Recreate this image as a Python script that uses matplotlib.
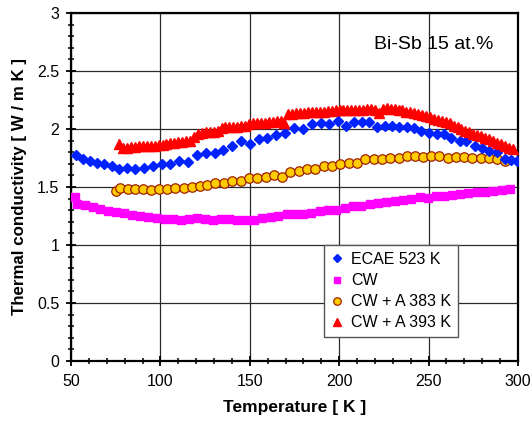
import matplotlib
matplotlib.use("Agg")
import matplotlib.pyplot as plt
from matplotlib.ticker import MultipleLocator, FuncFormatter

plt.rcParams['font.family'] = ['Liberation Sans', 'DejaVu Sans']

# ECAE 523 K
t_ecae = [52.8, 56.9, 60.6, 64.4, 68.4, 72.7, 77.0, 81.1, 85.9, 90.8, 95.8, 100.7,
          105.5, 110.5, 115.4, 120.2, 125.4, 130.3, 135.1, 140.1, 145.1, 150.0, 155.0,
          159.9, 164.7, 169.7, 175.0, 179.8, 184.8, 189.7, 194.5, 199.6, 204.0, 208.2,
          212.7, 216.6, 221.1, 225.4, 229.5, 233.6, 237.7, 241.8, 245.9, 250.2, 254.6,
          258.8, 262.8, 267.3, 271.1, 275.7, 279.6, 283.9, 288.2, 292.5, 296.2, 299.5]
k_ecae = [1.78, 1.74, 1.72, 1.71, 1.70, 1.68, 1.655, 1.665, 1.655, 1.66, 1.68, 1.695,
          1.70, 1.725, 1.715, 1.775, 1.79, 1.79, 1.815, 1.85, 1.895, 1.87, 1.915,
          1.925, 1.95, 1.965, 2.005, 2.00, 2.04, 2.05, 2.04, 2.07, 2.03, 2.06,
          2.06, 2.06, 2.02, 2.03, 2.03, 2.02, 2.015, 2.01, 1.985, 1.965, 1.955,
          1.955, 1.925, 1.90, 1.895, 1.85, 1.84, 1.81, 1.80, 1.74, 1.73, 1.725]

# CW
t_cw = [52.1, 53.2, 57.8, 62.1, 66.4, 70.8, 75.1, 79.8, 84.2, 88.7, 93.2, 97.9, 102.3,
        106.8, 111.3, 115.8, 120.2, 125.0, 129.5, 134.0, 138.4, 143.1, 147.6, 152.2,
        156.7, 161.6, 166.0, 170.7, 175.3, 179.8, 184.5, 189.1, 193.7, 198.4, 203.1,
        207.7, 212.4, 217.0, 221.7, 226.4, 231.0, 235.6, 240.3, 245.0, 249.6, 253.9,
        258.5, 263.2, 267.7, 272.3, 277.0, 281.7, 286.3, 290.8, 295.3]
k_cw = [1.416, 1.353, 1.342, 1.325, 1.308, 1.293, 1.282, 1.273, 1.261, 1.253, 1.241,
        1.233, 1.227, 1.221, 1.213, 1.221, 1.233, 1.224, 1.213, 1.221, 1.221, 1.216,
        1.216, 1.213, 1.236, 1.241, 1.253, 1.264, 1.270, 1.270, 1.279, 1.296, 1.305,
        1.305, 1.322, 1.333, 1.339, 1.353, 1.365, 1.373, 1.379, 1.385, 1.394, 1.411,
        1.408, 1.420, 1.422, 1.431, 1.440, 1.445, 1.460, 1.460, 1.466, 1.471, 1.480]

# CW + A 383 K
t_a383 = [75.0, 77.5, 81.7, 85.8, 90.2, 94.5, 99.2, 103.8, 108.3, 113.0, 117.6, 122.1,
          126.3, 130.8, 135.6, 140.3, 145.0, 149.6, 154.1, 158.8, 163.4, 168.0, 172.7,
          177.4, 182.0, 186.7, 191.3, 196.0, 200.7, 205.3, 209.8, 214.6, 219.3, 223.9,
          228.6, 233.2, 237.7, 242.3, 246.8, 251.5, 256.0, 260.6, 265.3, 269.9, 274.4,
          279.1, 283.7, 288.4, 292.8]
k_a383 = [1.468, 1.489, 1.483, 1.483, 1.483, 1.474, 1.485, 1.485, 1.489, 1.494, 1.500,
          1.509, 1.517, 1.537, 1.532, 1.549, 1.554, 1.575, 1.575, 1.586, 1.603, 1.589,
          1.632, 1.635, 1.652, 1.658, 1.681, 1.678, 1.695, 1.707, 1.711, 1.739, 1.741,
          1.739, 1.747, 1.750, 1.764, 1.764, 1.756, 1.767, 1.764, 1.752, 1.758, 1.758,
          1.752, 1.752, 1.747, 1.739, 1.727]

# CW + A 393 K
t_a393 = [77.0, 79.2, 81.4, 83.6, 85.8, 88.0, 90.2, 92.4, 94.6, 96.8, 99.0, 101.2,
          103.4, 105.6, 107.8, 110.0, 112.2, 114.4, 116.6, 118.8, 121.0, 123.2, 125.4,
          127.6, 129.8, 132.0, 134.2, 136.4, 138.6, 140.8, 143.0, 145.2, 147.4, 149.6,
          151.8, 154.0, 156.2, 158.4, 160.6, 162.8, 165.0, 167.2, 169.4, 171.6, 173.8,
          176.0, 178.2, 180.4, 182.6, 184.8, 187.0, 189.2, 191.4, 193.6, 195.8, 198.0,
          200.2, 202.4, 204.6, 206.8, 209.0, 211.2, 213.4, 215.6, 217.8, 220.0, 222.2,
          224.4, 226.6, 228.8, 231.0, 233.2, 235.4, 237.6, 239.8, 242.0, 244.2, 246.4,
          248.6, 250.8, 253.0, 255.2, 257.4, 259.6, 261.8, 264.0, 266.2, 268.4, 270.6,
          272.8, 275.0, 277.2, 279.4, 281.6, 283.8, 286.0, 288.2, 290.4, 292.6, 294.8,
          297.0]
k_a393 = [1.87, 1.84, 1.84, 1.845, 1.845, 1.85, 1.85, 1.85, 1.855, 1.855, 1.86, 1.865,
          1.87, 1.875, 1.88, 1.885, 1.89, 1.895, 1.90, 1.93, 1.96, 1.965, 1.97,
          1.97, 1.975, 1.98, 2.01, 2.015, 2.015, 2.02, 2.02, 2.025, 2.03, 2.045,
          2.05, 2.05, 2.055, 2.055, 2.06, 2.06, 2.065, 2.07, 2.05, 2.125, 2.13,
          2.135, 2.14, 2.14, 2.145, 2.145, 2.15, 2.15, 2.15, 2.155, 2.155, 2.16,
          2.16, 2.16, 2.16, 2.165, 2.165, 2.16, 2.165, 2.17, 2.17, 2.165, 2.14,
          2.175, 2.18, 2.175, 2.17, 2.165, 2.16, 2.15, 2.145, 2.135, 2.125, 2.12,
          2.11, 2.10, 2.09, 2.08, 2.07, 2.06, 2.05, 2.03, 2.015, 2.0, 1.985,
          1.97, 1.96, 1.95, 1.94, 1.925, 1.91, 1.895, 1.88, 1.87, 1.855, 1.84,
          1.825]

fig = plt.figure(figsize=(5.31, 4.23), dpi=100)
ax = fig.add_axes([0.1337, 0.1466, 0.8418, 0.8227])

ax.plot(t_ecae, k_ecae, 'D', color='#0022ff', ms=5.4, mec='#0022ff', label='ECAE 523 K', zorder=4)
ax.plot(t_cw, k_cw, 's', color='#ff00ff', ms=6.2, mec='#ff00ff', label='CW', zorder=3)
ax.plot(t_a383, k_a383, 'o', color='#ffcc00', ms=6.8, mec='#a02000', mew=0.9,
        label='CW + A 383 K', zorder=3)
ax.plot(t_a393, k_a393, '^', color='#ff0000', ms=6.8, mec='#ff0000', label='CW + A 393 K', zorder=5)

ax.set_xlim(50, 300)
ax.set_ylim(0, 3)
ax.xaxis.set_major_locator(MultipleLocator(50))
ax.xaxis.set_minor_locator(MultipleLocator(10))
ax.yaxis.set_major_locator(MultipleLocator(0.5))
ax.yaxis.set_minor_locator(MultipleLocator(0.1))
ax.yaxis.set_major_formatter(FuncFormatter(lambda v, p: '%g' % v))

ax.grid(True, which='major', color='#2a2a2a', lw=0.9)
ax.set_axisbelow(True)
for s in ax.spines.values():
    s.set_linewidth(1.6)

ax.tick_params(which='major', direction='inout', length=7, width=1.3, labelsize=11.5)
ax.tick_params(axis='x', which='major', pad=6)
ax.tick_params(axis='y', which='major', pad=5)
ax.tick_params(which='minor', direction='inout', length=4, width=1.1)

ax.set_xlabel('Temperature [ K ]', fontsize=12.5, fontweight='bold', labelpad=8)
ax.set_ylabel('Thermal conductivity [ W / m K ]', fontsize=12.2, fontweight='bold', labelpad=7)

ax.text(0.945, 0.91, 'Bi-Sb 15 at.%', transform=ax.transAxes, ha='right', va='center',
        fontsize=14)

leg = ax.legend(loc='lower left', bbox_to_anchor=(0.566, 0.069), borderaxespad=0,
                fontsize=11.5, fancybox=False, framealpha=1, edgecolor='#555555',
                borderpad=0.42, handlelength=0.8, handletextpad=0.5, labelspacing=0.38,
                markerscale=0.8)
leg.get_frame().set_linewidth(1.0)

fig.savefig('out.png', dpi=100)
